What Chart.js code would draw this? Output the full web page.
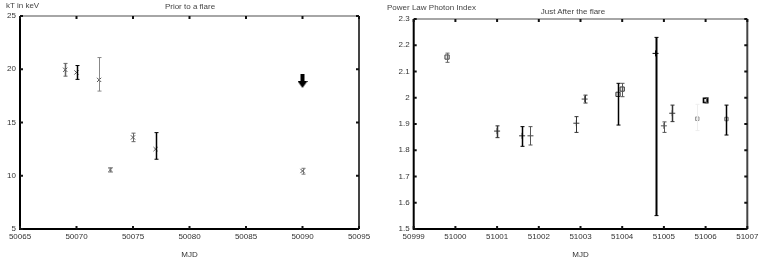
<!DOCTYPE html>
<html><head><meta charset="utf-8">
<script src="https://cdn.jsdelivr.net/npm/chart.js@4/dist/chart.umd.min.js"></script>
<style>
html,body{margin:0;padding:0;background:#fff;width:763px;height:260px;overflow:hidden;font-family:"Liberation Sans",sans-serif;}
.wrap{position:absolute;top:0;width:380px;height:260px;}
.lbl{position:absolute;font-size:8px;color:#444;white-space:nowrap;}
</style></head><body>
<div class="wrap" style="left:0"><canvas id="c1" width="380" height="260"></canvas>
 <div class="lbl" style="left:6px;top:1px">kT in keV</div>
 <div class="lbl" style="left:0;width:380px;text-align:center;top:2px">Prior to a flare</div>
</div>
<div class="wrap" style="left:383px"><canvas id="c2" width="380" height="260"></canvas>
 <div class="lbl" style="left:4px;top:3px">Power Law Photon Index</div>
 <div class="lbl" style="left:0;width:380px;text-align:center;top:7px">Just After the flare</div>
</div>
<script>
// ---- Left chart data (Prior to a flare)
const priorMJD   = [50069.0, 50070.0, 50072.0, 50073.0, 50075.0, 50077.0, 50090.0];
const priorKT    = [19.95, 19.7, 19.0, 10.55, 13.6, 12.5, 10.45];
const priorErrUp = [0.6, 0.65, 2.1, 0.2, 0.4, 1.55, 0.25];
const priorErrDn = [0.6, 0.65, 1.05, 0.2, 0.4, 0.95, 0.3];
const limitMJD   = [50090.0];
const limitKT    = [18.9];
const priorXTicks = ["50065","50070","50075","50080","50085","50090","50095"];
const priorYTicks = ["5","10","15","20","25"];

// ---- Right chart data (Just After the flare)
const afterMJD   = [50999.8, 51001.0, 51001.6, 51001.8, 51002.9, 51003.1, 51003.9, 51004.0, 51004.8, 51005.0, 51005.2, 51005.8, 51006.0, 51006.5];
const afterIdx   = [2.155, 1.873, 1.855, 1.855, 1.903, 1.995, 2.013, 2.033, 2.169, 1.893, 1.941, 1.92, 1.99, 1.919];
const afterErrUp = [0.015, 0.02, 0.035, 0.035, 0.025, 0.015, 0.042, 0.022, 0.061, 0.015, 0.031, 0.055, 0.01, 0.053];
const afterErrDn = [0.02, 0.025, 0.04, 0.035, 0.035, 0.015, 0.117, 0.029, 0.618, 0.025, 0.032, 0.045, 0.01, 0.061];
const afterXTicks = ["50999","51000","51001","51002","51003","51004","51005","51006","51007"];
const afterYTicks = ["1.5","1.6","1.7","1.8","1.9","2","2.1","2.2","2.3"];

// Down-arrow image used as the upper-limit marker
function arrowImg(){
  const c=document.createElement('canvas'); c.width=10; c.height=14;
  const g=c.getContext('2d'); g.fillStyle='#000';
  g.fillRect(3,0,4,8);
  g.beginPath(); g.moveTo(0,7); g.lineTo(10,7); g.lineTo(5,14); g.closePath(); g.fill();
  return c;
}

const errPlugin = {
  id:'errbars',
  afterDatasetsDraw(chart){
    const ctx=chart.ctx, xs=chart.scales.x, ys=chart.scales.y;
    chart.data.datasets.forEach(ds=>{
      if(!ds.errUp) return;
      ds.data.forEach((p,i)=>{
        const x=Math.round(xs.getPixelForValue(p.x))+0.5;
        const yt=ys.getPixelForValue(p.y+ds.errUp[i]);
        const yb=ys.getPixelForValue(p.y-ds.errDn[i]);
        ctx.save();
        ctx.strokeStyle=(ds.errColor&&ds.errColor[i])||'#000';
        ctx.lineWidth=(ds.errWidth&&ds.errWidth[i])||1;
        ctx.beginPath();
        ctx.moveTo(x,yt); ctx.lineTo(x,yb);
        ctx.stroke();
        ctx.lineWidth=1;
        ctx.beginPath();
        ctx.moveTo(x-2,yt); ctx.lineTo(x+2,yt);
        ctx.moveTo(x-2,yb); ctx.lineTo(x+2,yb);
        ctx.stroke(); ctx.restore();
      });
    });
  }
};

const framePlugin = {
  id:'frame',
  afterDraw(chart){
    const ctx=chart.ctx, a=chart.chartArea, xs=chart.scales.x, ys=chart.scales.y;
    ctx.save();
    ctx.lineCap='butt';
    ctx.strokeStyle='#888'; ctx.lineWidth=1.5;
    ctx.beginPath(); ctx.moveTo(a.left,a.top); ctx.lineTo(a.right,a.top); ctx.stroke();
    ctx.strokeStyle='#444'; ctx.lineWidth=2;
    ctx.beginPath(); ctx.moveTo(a.right,a.top); ctx.lineTo(a.right,a.bottom); ctx.stroke();
    ctx.strokeStyle='#000'; ctx.lineWidth=2;
    ctx.beginPath(); ctx.moveTo(a.left,a.top); ctx.lineTo(a.left,a.bottom); ctx.lineTo(a.right,a.bottom); ctx.stroke();
    ctx.strokeStyle='#111'; ctx.lineWidth=2;
    ctx.beginPath();
    xs.ticks.forEach(t=>{const x=xs.getPixelForValue(t.value);
      ctx.moveTo(x,a.bottom); ctx.lineTo(x,a.bottom-3);
      ctx.moveTo(x,a.top); ctx.lineTo(x,a.top+3);});
    ys.ticks.forEach(t=>{const y=ys.getPixelForValue(t.value);
      ctx.moveTo(a.left,y); ctx.lineTo(a.left+3,y);
      ctx.moveTo(a.right,y); ctx.lineTo(a.right-3,y);});
    ctx.stroke();
    ctx.restore();
  }
};

function makeScales(xmin,xmax,xstep,xlabels,ymin,ymax,ystep,ylabels,yw){
  const font={family:'Liberation Sans',size:8};
  return {
    x:{type:'linear',min:xmin,max:xmax,
       ticks:{stepSize:xstep,color:'#333',font,padding:3,maxRotation:0,autoSkip:false,
              callback:(v,i)=>xlabels[i]},
       grid:{display:false,drawTicks:false},border:{display:false},
       title:{display:true,text:'MJD',color:'#333',font,padding:{top:5,bottom:0}},
       afterFit:s=>{s.height=31;}},
    y:{type:'linear',min:ymin,max:ymax,
       ticks:{stepSize:ystep,color:'#333',font,padding:4,
              callback:(v,i)=>ylabels[i]},
       grid:{display:false,drawTicks:false},border:{display:false},
       afterFit:s=>{s.width=yw;}}
  };
}

const common = {responsive:false,animation:false,
  plugins:{legend:{display:false},tooltip:{enabled:false}}};

new Chart(document.getElementById('c1'),{
  type:'scatter',
  data:{datasets:[
    {data:priorMJD.map((x,i)=>({x,y:priorKT[i]})),errUp:priorErrUp,errDn:priorErrDn,
     errColor:['#666','#000','#888','#777','#666','#000','#777'],
     errWidth:[1.5,1.5,1,1,1,1.5,1],
     pointStyle:'crossRot',radius:3,borderColor:'#555',borderWidth:1},
    {data:limitMJD.map((x,i)=>({x,y:limitKT[i]})),pointStyle:arrowImg(),radius:7}
  ]},
  options:{...common,layout:{padding:{top:16,right:21,left:0,bottom:0}},
    scales:makeScales(50065,50095,5,priorXTicks,5,25,5,priorYTicks,20)},
  plugins:[errPlugin,framePlugin]
});

new Chart(document.getElementById('c2'),{
  type:'scatter',
  data:{datasets:[
    {data:afterMJD.map((x,i)=>({x,y:afterIdx[i]})),errUp:afterErrUp,errDn:afterErrDn,
     errColor:['#666','#333','#000','#555','#333','#333','#000','#555','#000','#555','#333','#eee','#555','#000'],
     errWidth:[1,1.5,1.5,1,1,1,1.5,1,2,1,1.5,1,1,1.5],
     pointStyle:['rect','cross','cross','cross','cross','cross','rect','rect','cross','cross','cross','rect','rect','rect'],
     radius:[3,3,3,3,3,3,3,3,3,3,3,2.5,3,2.5],
     borderColor:['#444','#333','#333','#444','#333','#444','#333','#333','#000','#555','#333','#999','#000','#777'],
     borderWidth:[1,1,1,1,1,1,1,1,1,1,1,1,1.6,1]}
  ]},
  options:{...common,layout:{padding:{top:19,right:15.7,left:0,bottom:0}},
    scales:makeScales(50999,51007,1,afterXTicks,1.5,2.3,0.1,afterYTicks,30.7)},
  plugins:[errPlugin,framePlugin]
});
</script>
</body></html>
